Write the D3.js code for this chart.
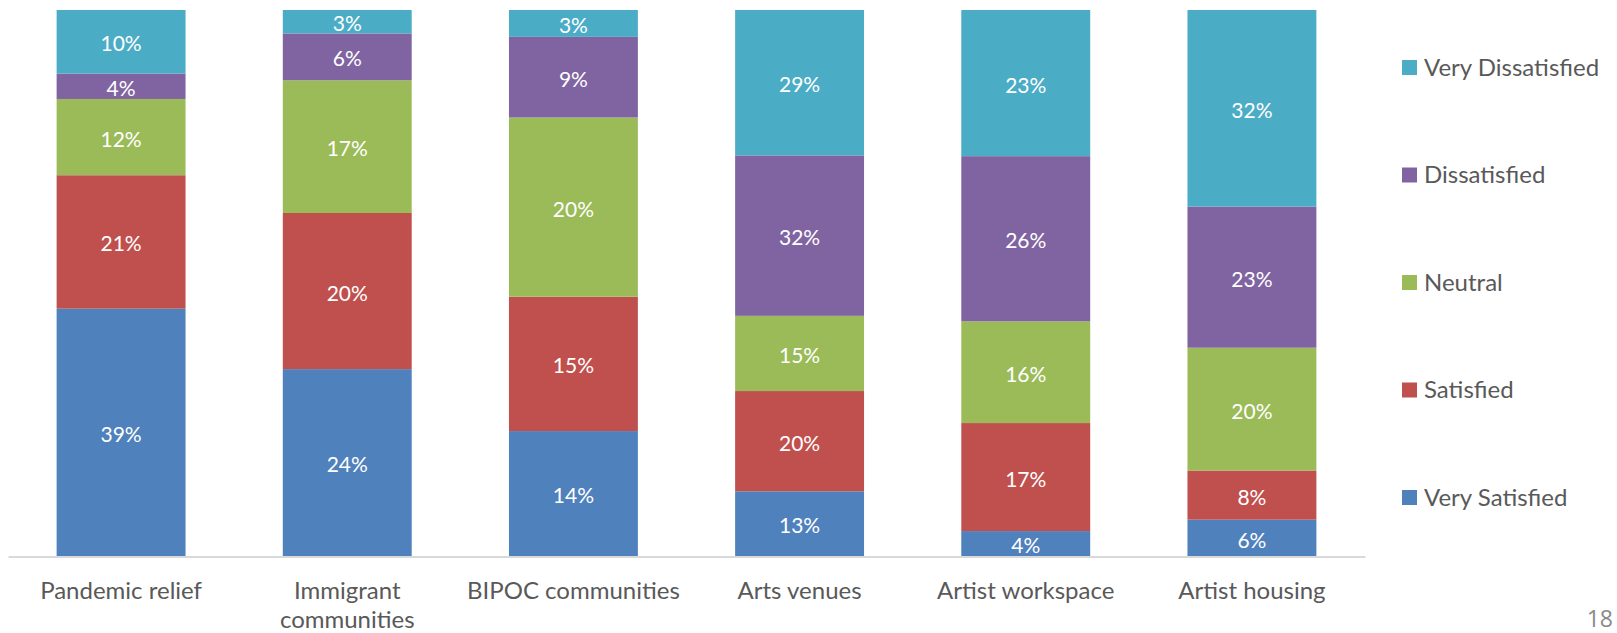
<!DOCTYPE html>
<meta charset="utf-8">
<style>
body { margin: 0; background: #fff; }
text { font-family: Lato, "Open Sans", sans-serif; }
.axis-label { fill: #595959; font-size: 24px; }
.legend-label { fill: #595959; font-size: 24px; }
.bar-label { fill: #fff; font-size: 21px; }
</style>
<body>
<script src="https://d3js.org/d3.v7.min.js"></script>
<script>

var categories = ["Pandemic relief", "Immigrant communities", "BIPOC communities",
                  "Arts venues", "Artist workspace", "Artist housing"];
var seriesNames = ["Very Satisfied", "Satisfied", "Neutral", "Dissatisfied", "Very Dissatisfied"];
var colors = ["#4f81bd", "#c0504d", "#9bbb59", "#8064a2", "#4bacc6"];

var verySatisfied    = [39, 24, 14, 13, 4, 6];
var satisfied        = [21, 20, 15, 20, 17, 8];
var neutral          = [12, 17, 20, 15, 16, 20];
var dissatisfied     = [4, 6, 9, 32, 26, 23];
var veryDissatisfied = [10, 3, 3, 29, 23, 32];

var seriesValues = [verySatisfied, satisfied, neutral, dissatisfied, veryDissatisfied];

var width = 1617, height = 633;
var plot = {left: 8, right: 1365, top: 10, bottom: 556.5};

var rows = categories.map(function(c, i) {
  var r = {category: c};
  seriesNames.forEach(function(s, j) { r[s] = seriesValues[j][i]; });
  return r;
});

var stacked = d3.stack()
    .keys(seriesNames)
    .offset(d3.stackOffsetExpand)(rows);

var x = d3.scaleBand()
    .domain(categories)
    .range([plot.left, plot.right])
    .paddingInner(0.43)
    .paddingOuter(0.215);

var y = d3.scaleLinear().domain([0, 1]).range([plot.bottom, plot.top]);

var color = d3.scaleOrdinal().domain(seriesNames).range(colors);

var svg = d3.select("body").append("svg")
    .attr("width", width)
    .attr("height", height);

var layer = svg.selectAll("g.layer")
    .data(stacked)
  .enter().append("g")
    .attr("class", "layer")
    .attr("fill", function(d) { return color(d.key); });

layer.selectAll("rect")
    .data(function(d) { return d; })
  .enter().append("rect")
    .attr("x", function(d) { return x(d.data.category); })
    .attr("width", x.bandwidth())
    .attr("y", function(d) { return y(d[1]); })
    .attr("height", function(d) { return y(d[0]) - y(d[1]); });

layer.selectAll("text")
    .data(function(d) { return d.map(function(p) { p.key = d.key; return p; }); })
  .enter().append("text")
    .attr("class", "bar-label")
    .attr("text-anchor", "middle")
    .attr("dominant-baseline", "central")
    .attr("x", function(d) { return x(d.data.category) + x.bandwidth() / 2; })
    .attr("y", function(d) { return (y(d[0]) + y(d[1])) / 2 + 1; })
    .text(function(d) { return d.data[d.key] + "%"; });

// x axis
var xAxis = svg.append("g")
    .attr("transform", "translate(0," + plot.bottom + ")")
    .call(d3.axisBottom(x).tickSize(0).tickPadding(0).tickSizeOuter(0));

xAxis.select(".domain")
    .attr("stroke", "#d9d9d9")
    .attr("stroke-width", 2);

xAxis.selectAll(".tick text")
    .attr("class", "axis-label")
    .attr("font-family", null)
    .attr("font-size", null)
    .attr("fill", null)
    .call(wrap, x.step());

function wrap(texts, w) {
  texts.each(function() {
    var text = d3.select(this),
        words = text.text().split(/\s+/),
        line = [],
        lineNo = 0,
        tspan = text.text(null).append("tspan").attr("x", 0).attr("y", 42).attr("dy", 0);
    words.forEach(function(word) {
      line.push(word);
      tspan.text(line.join(" "));
      if (tspan.node().getComputedTextLength() > w - 10 && line.length > 1) {
        line.pop();
        tspan.text(line.join(" "));
        line = [word];
        lineNo++;
        tspan = text.append("tspan").attr("x", 0).attr("y", 42).attr("dy", lineNo * 29).text(word);
      }
    });
  });
}

// legend
var legendY = d3.scalePoint()
    .domain(seriesNames.slice().reverse())
    .range([67.5, 497.5]);

var legend = svg.selectAll("g.legend")
    .data(seriesNames)
  .enter().append("g")
    .attr("class", "legend")
    .attr("transform", function(d) { return "translate(1402," + legendY(d) + ")"; });

legend.append("rect")
    .attr("y", -7.5)
    .attr("width", 15)
    .attr("height", 15)
    .attr("fill", function(d) { return color(d); });

legend.append("text")
    .attr("class", "legend-label")
    .attr("x", 22)
    .attr("y", 8)
    .text(function(d) { return d; });

// slide number
svg.append("text")
    .attr("x", 1613)
    .attr("y", 627)
    .attr("text-anchor", "end")
    .style("font-family", "'Open Sans', sans-serif")
    .style("font-size", "23px")
    .style("fill", "#898989")
    .text("18");

</script>
</body>
